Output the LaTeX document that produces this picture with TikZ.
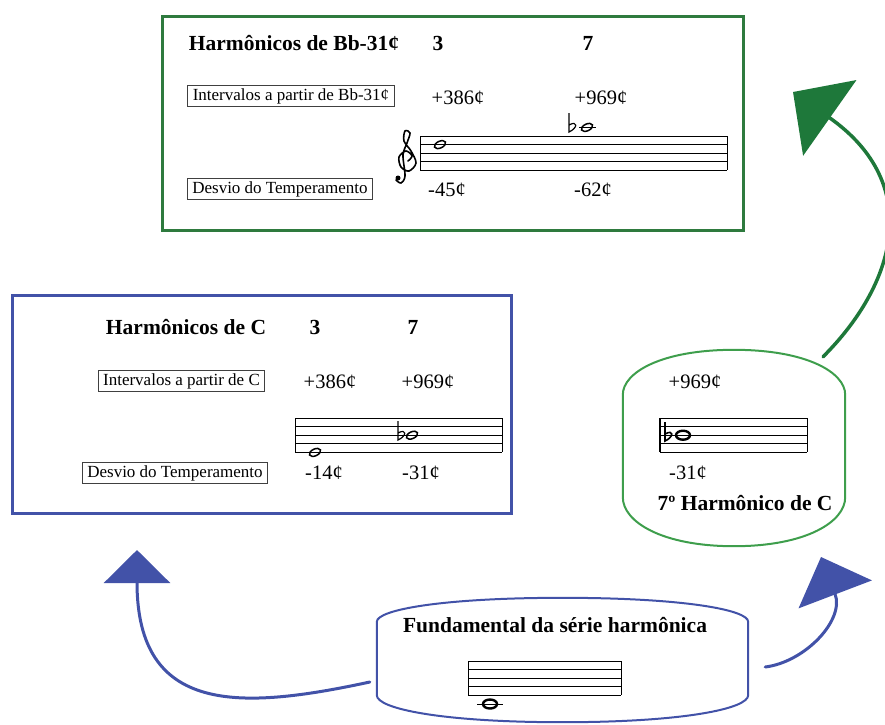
\documentclass[tikz,border=0pt]{standalone}
\usepackage{fontspec}
\setmainfont{Liberation Serif}
\usetikzlibrary{arrows.meta,calc}
\definecolor{boxgreen}{RGB}{46,122,62}
\definecolor{arrowgreen}{RGB}{30,120,58}
\definecolor{barrelgreen}{RGB}{62,158,76}
\definecolor{seriesblue}{RGB}{66,82,168}
\tikzset{
    % Frames round the two tables
    quadro/.style={
           rectangle,
           draw, line width=3pt,
           inner sep=0pt},
    % Bold headings
    titulo/.style={
           font=\fontsize{21.5}{24}\selectfont\bfseries,
           inner sep=0pt},
    % Cent values
    cents/.style={
           font=\fontsize{20.5}{24}\selectfont,
           inner sep=0pt},
    % Small boxed labels
    rotulo/.style={
           rectangle,
           draw=black!75, line width=0.9pt,
           font=\fontsize{17}{20}\selectfont,
           inner xsep=5pt, inner ysep=3pt},
    % Staff lines and notes
    pauta/.style={line width=0.9pt},
    cabeca/.style={line width=1.5pt},
    % Define arrow style
    seta/.style={
           line width=3pt,
           line cap=round}
}
% staff: left x, top y, width
\newcommand*{\pautaat}[3]{%
  \foreach \k in {0,...,4}{\draw[pauta] (#1,#2+\k*8.6) -- ++(#3,0);}
  \draw[pauta] (#1,#2) -- ++(0,34.4);
  \draw[pauta] (#1+#3,#2) -- ++(0,34.4);}
\newcommand*{\semibreve}[2]{\draw[cabeca,rotate around={25:(#1,#2)}] (#1,#2) ellipse [x radius=6, y radius=3.4];}
\newcommand*{\bemol}[3][1.2pt]{\draw[line width=#1] (#2,#3-19) -- (#2,#3) .. controls (#2+9,#3-4) and (#2+9,#3-12) .. (#2,#3-7);}
% barrel outline round a node: style, node, top bulge, bottom bulge
\newcommand*{\barril}[4]{%
  \draw[#1] ($(#2.north west)+(0,#3)$) .. controls ($(#2.north west)+(0,#3/2)$) and ($(#2.north west)!0.35!(#2.north)$) .. (#2.north)
    .. controls ($(#2.north east)!0.35!(#2.north)$) and ($(#2.north east)+(0,#3/2)$) .. ($(#2.north east)+(0,#3)$)
    -- ($(#2.south east)+(0,-#4)$) .. controls ($(#2.south east)+(0,-#4/2)$) and ($(#2.south east)!0.35!(#2.south)$) .. (#2.south)
    .. controls ($(#2.south west)!0.35!(#2.south)$) and ($(#2.south west)+(0,-#4/2)$) .. ($(#2.south west)+(0,-#4)$) -- cycle;}

\begin{document}
\begin{tikzpicture}[x=1pt,y=-1pt]
\useasboundingbox (0,0) rectangle (885,724);

% Table of the harmonics of Bb-31
\node[quadro, draw=boxgreen, minimum width=581pt, minimum height=214pt] (quadroBb) at (452.5,123) {};
\node[titulo] (tituloBb) at (294,43) {Harmônicos de Bb-31¢};
\node[titulo] (tresBb) at (438,43) {3};
\node[titulo] (seteBb) at (588,43) {7};
\node[rotulo] (intervBb) at (291,96) {Intervalos a partir de Bb-31¢};
\node[cents] (i3Bb) at (458,98) {+386¢};
\node[cents] (i7Bb) at (601,98) {+969¢};
\node[rotulo] (desvioBb) at (280,189) {Desvio do Temperamento};
\node[cents] (d3Bb) at (447,190) {-45¢};
\node[cents] (d7Bb) at (593,190) {-62¢};
\pautaat{420}{136}{307}
% treble clef
\draw[line width=1.6pt, line cap=round] plot[smooth, tension=0.55] coordinates {(408,161) (412,156) (406,151) (399,157) (401,167) (409,171) (416,163) (411,151) (404,141) (405,131) (410,133) (407,143) (403,155) (405,176) (401,183) (396,180)};
\fill (398,178) circle (2.5);
\semibreve{440}{144.6}
\draw[pauta] (579,127.4) -- (596,127.4);
\bemol{569}{132}
\semibreve{587}{127.4}

% Table of the harmonics of C
\node[quadro, draw=seriesblue, minimum width=499pt, minimum height=218pt] (quadroC) at (262,404) {};
\node[titulo] (tituloC) at (186,327) {Harmônicos de C};
\node[titulo] (tresC) at (315,327) {3};
\node[titulo] (seteC) at (413,327) {7};
\node[rotulo] (intervC) at (181.5,381) {Intervalos a partir de C};
\node[cents] (i3C) at (330,382) {+386¢};
\node[cents] (i7C) at (428,382) {+969¢};
\node[rotulo] (desvioC) at (175,473) {Desvio do Temperamento};
\node[cents] (d3C) at (324,473) {-14¢};
\node[cents] (d7C) at (421,473) {-31¢};
\pautaat{295}{418}{207}
\semibreve{315}{452.4}
\bemol{398}{440}
\semibreve{412}{435.2}

% Seventh harmonic of C
\node[minimum width=222pt, minimum height=196pt, inner sep=0pt] (harm7) at (734,448) {};
\barril{barrelgreen, line width=2pt}{harm7}{45}{49}
\node[cents] (i7h) at (695,382) {+969¢};
\pautaat{660}{418}{147}
\draw[line width=2pt] (660,418) -- ++(0,34.4);
\bemol[1.6pt]{665}{441}
\draw[line width=2.4pt] (683,435.2) ellipse [x radius=7, y radius=4.5];
\node[cents] (d7h) at (688,473) {-31¢};
\node[titulo] (titulo7h) at (745,503) {7º Harmônico de C};

% Fundamental
\node[minimum width=371pt, minimum height=124pt, inner sep=0pt] (fundamental) at (562.5,660) {};
\barril{seriesblue, line width=2pt}{fundamental}{24}{27}
\node[titulo] (tituloF) at (555,625) {Fundamental da série harmônica};
\pautaat{468}{661}{153}
\draw[pauta] (477,704) -- (503,704);
\draw[line width=2.4pt] (490,704) ellipse [x radius=7, y radius=4.5];

% Arrow tips
\coordinate (pontaC) at (137,550);
\coordinate (pontaH) at (821,557);
\coordinate (pontaBb) at (793,92);

% Now connect them
\draw[seta, seriesblue, -{Triangle[length=33pt,width=66pt]}] ([shift={(-7,22)}]fundamental.west) .. controls (240,710) and (137,715) .. (pontaC);
\draw[seta, seriesblue, -{Triangle[length=40pt,width=78pt]}] ([shift={(17,7)}]fundamental.east) .. controls (805,662) and (845,620) .. (pontaH);
\draw[seta, arrowgreen, line width=3.5pt, -{Triangle[length=45pt,width=92pt]}] ([shift={(89,7)}]harm7.north) .. controls (895,285) and (925,185) .. (pontaBb);
\end{tikzpicture}
\end{document}
